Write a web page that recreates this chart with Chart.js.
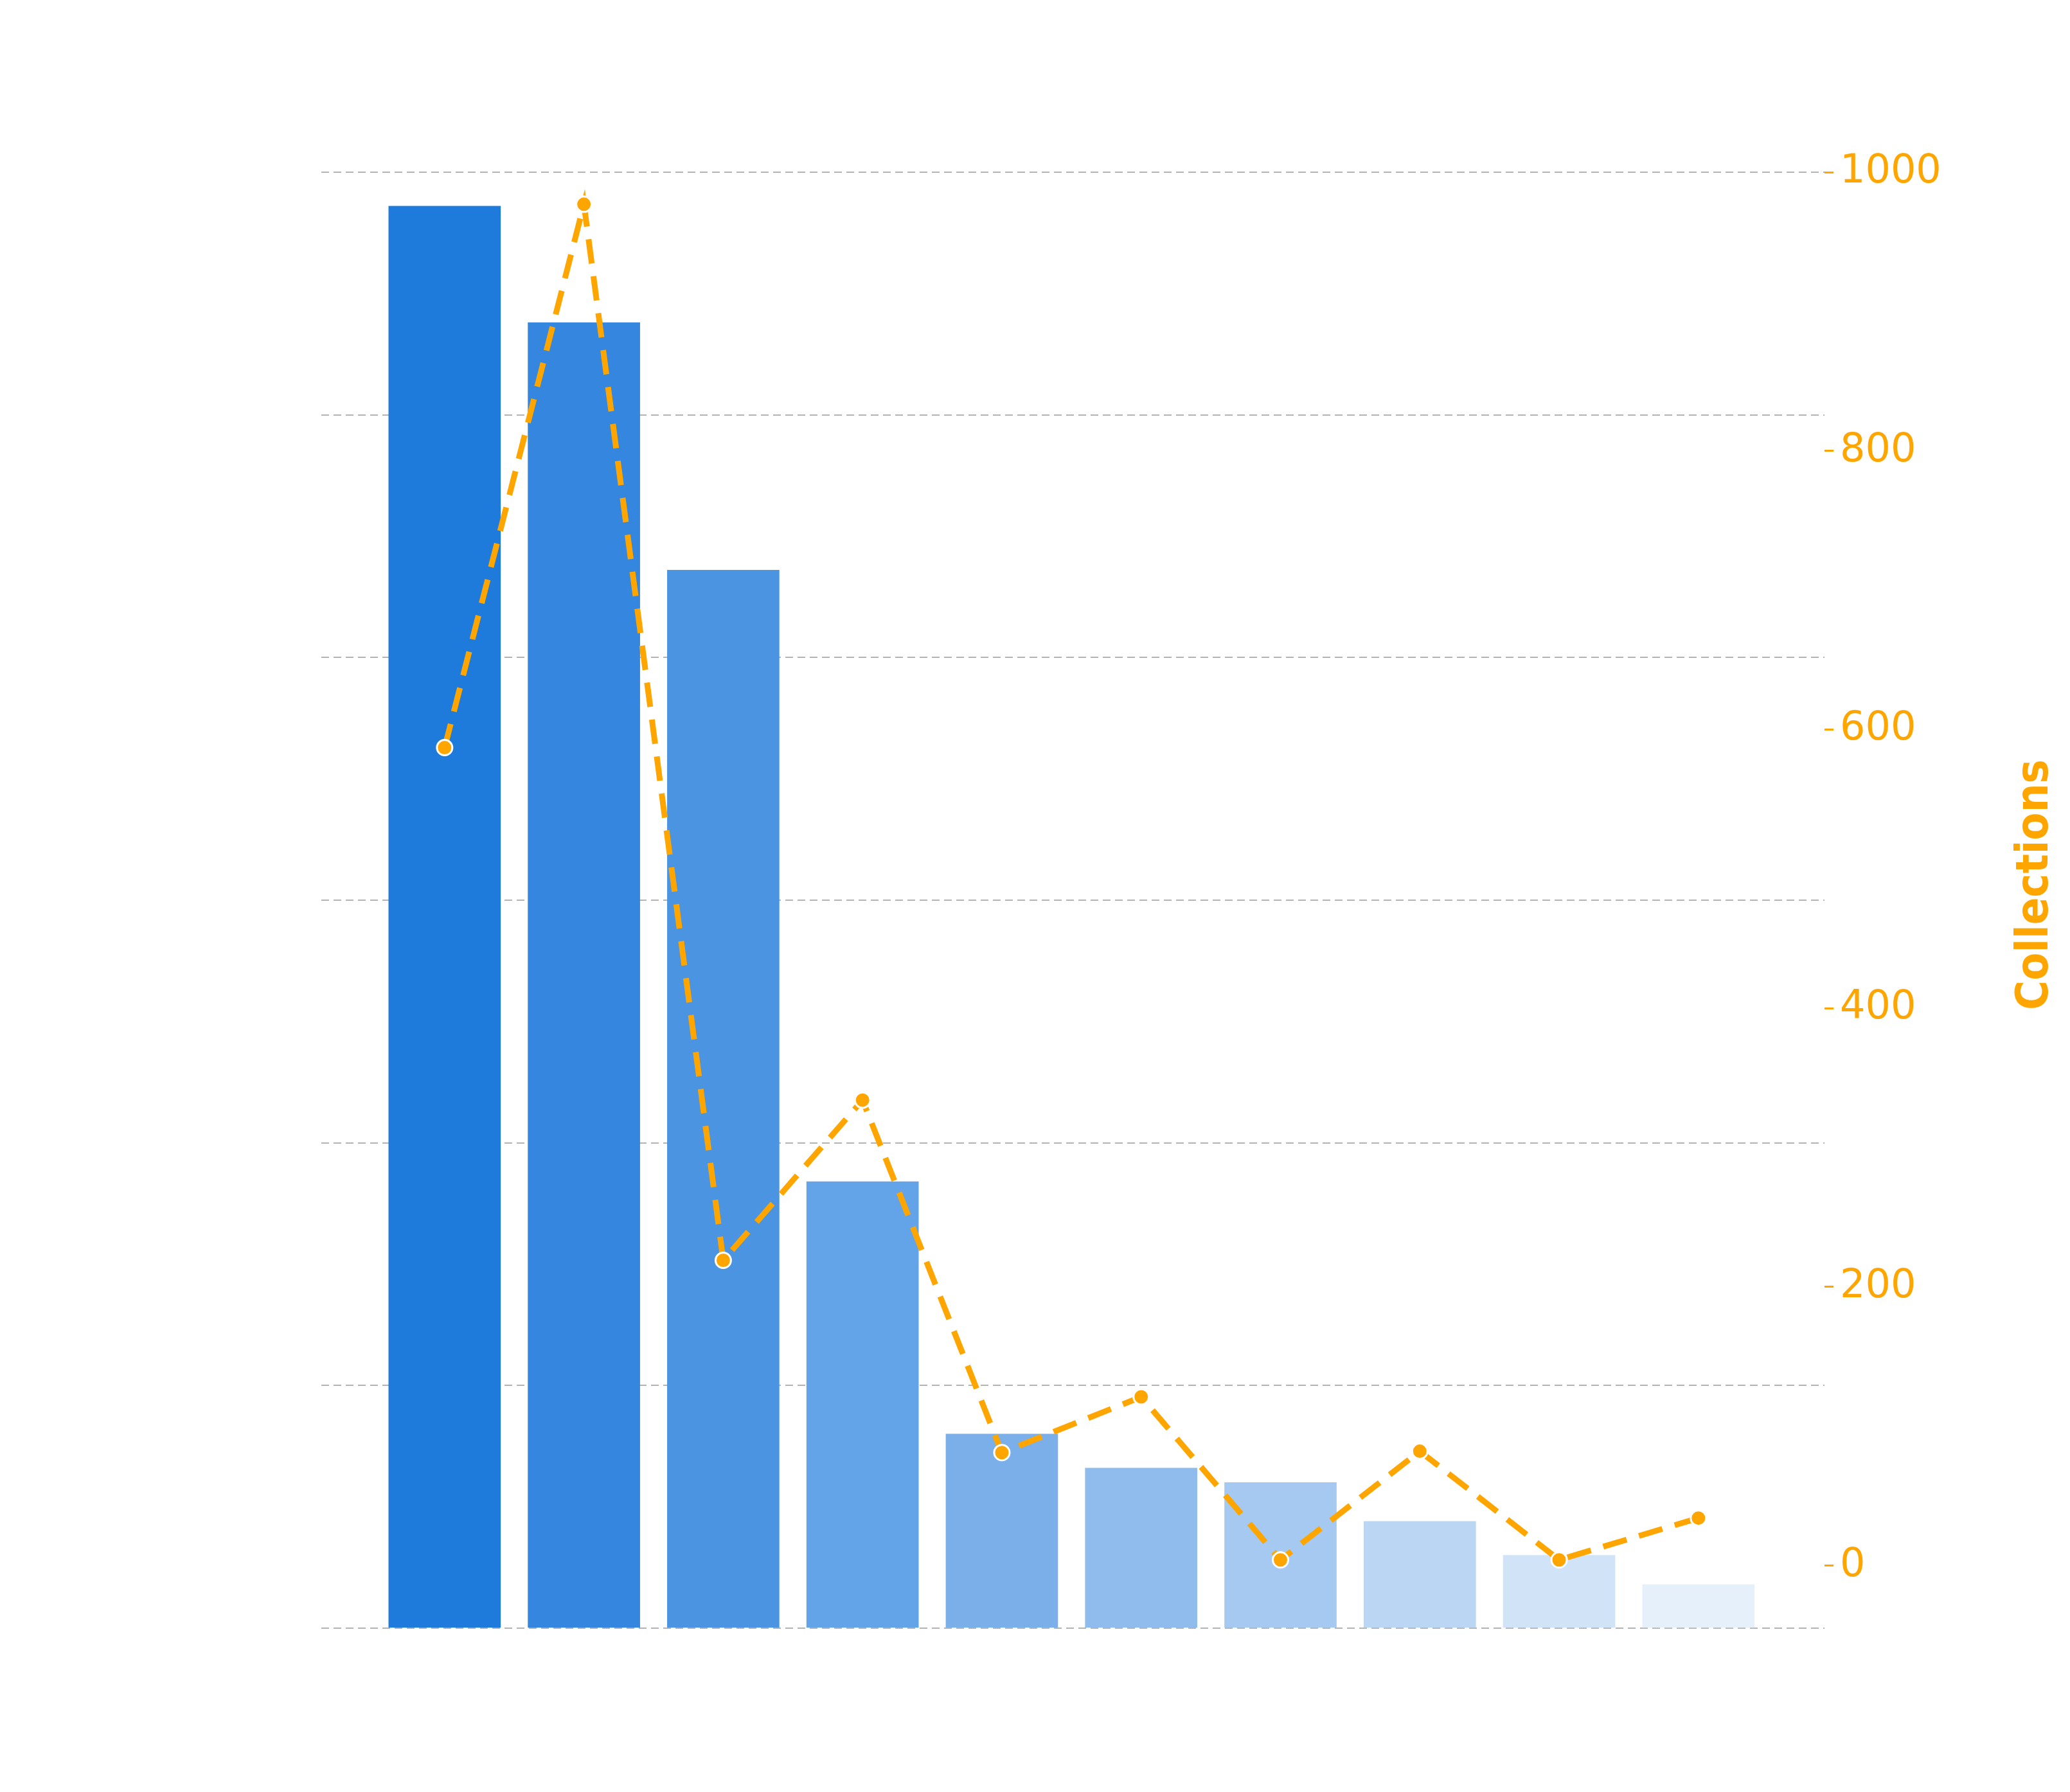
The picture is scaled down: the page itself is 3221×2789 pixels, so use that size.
<!DOCTYPE html>
<html>
<head>
<meta charset="utf-8">
<script src="https://cdn.jsdelivr.net/npm/chart.js@4"></script>
<style>
  html, body { margin: 0; padding: 0; background: #fff; }
</style>
</head>
<body>
<canvas id="combo" width="3221" height="2789"></canvas>
<script>
var categories = ['1', '2', '3', '4', '5', '6', '7', '8', '9', '10'];
var barValues = [586, 538, 436, 184, 80, 66, 60, 44, 30, 18];
var collections = [587, 977, 219, 334, 81, 121, 4, 82, 4, 34];
var collectionTicks = [0, 200, 400, 600, 800, 1000];
var barColors = ['#1f7bdb', '#3486df', '#4b94e2', '#63a3e7', '#7aafea',
                 '#8fbcec', '#a5c9f0', '#bad6f3', '#d0e3f7', '#e5f0fb'];
var orange = '#FFA500';

// title of the right axis, reading bottom to top
var sideTitle = {
    id: 'sideTitle',
    afterDraw: function(chart) {
        var c = chart.ctx;
        c.save();
        c.translate(3168, 1377);
        c.rotate(-Math.PI / 2);
        c.fillStyle = orange;
        c.font = 'bold 70px "DejaVu Sans Condensed"';
        c.textAlign = 'center';
        c.textBaseline = 'middle';
        c.fillText('Collections', 0, 0);
        c.restore();
    }
};

var ctx = document.getElementById('combo').getContext('2d');
new Chart(ctx, {
    type: 'bar',
    data: {
        labels: categories,
        datasets: [{
            type: 'line',
            label: 'Collections',
            data: collections.map(function(v, i) { return {x: i, y: v}; }),
            yAxisID: 'yR',
            borderColor: orange,
            borderWidth: 9,
            borderDash: [38, 20],
            pointRadius: 12,
            pointBackgroundColor: orange,
            pointBorderColor: '#fff',
            pointBorderWidth: 3,
            tension: 0,
            order: 0
        }, {
            label: 'Values',
            data: barValues.map(function(v, i) { return {x: i, y: v}; }),
            yAxisID: 'yL',
            backgroundColor: barColors,
            borderWidth: 0,
            barThickness: 174,
            order: 1
        }]
    },
    options: {
        responsive: false,
        animation: false,
        devicePixelRatio: 1,
        layout: { padding: { left: 500, right: 0, top: 268, bottom: 255 } },
        plugins: { legend: { display: false }, tooltip: { enabled: false } },
        scales: {
            x: {
                type: 'linear',
                offset: false,
                min: -0.885,
                max: 9.905,
                display: false
            },
            yL: {
                position: 'left',
                min: 0,
                max: 600,
                ticks: { display: false, stepSize: 100 },
                border: { display: false, dash: [12, 7] },
                grid: { color: '#b3b3b3', lineWidth: 2, drawTicks: false },
                afterFit: function(scale) { scale.width = 0; }
            },
            yR: {
                position: 'right',
                min: -45,
                max: 1000,
                afterBuildTicks: function(scale) {
                    scale.ticks = collectionTicks.map(function(v) { return {value: v}; });
                },
                ticks: {
                    color: orange,
                    font: { family: 'DejaVu Sans', size: 62 },
                    padding: 10,
                    callback: function(v) { return String(v); }
                },
                border: { display: false },
                grid: { drawOnChartArea: false, tickLength: 14, tickColor: orange, lineWidth: 3 },
                afterFit: function(scale) { scale.width = 3221 - 2839; }
            }
        }
    },
    plugins: [sideTitle]
});
</script>
</body>
</html>
